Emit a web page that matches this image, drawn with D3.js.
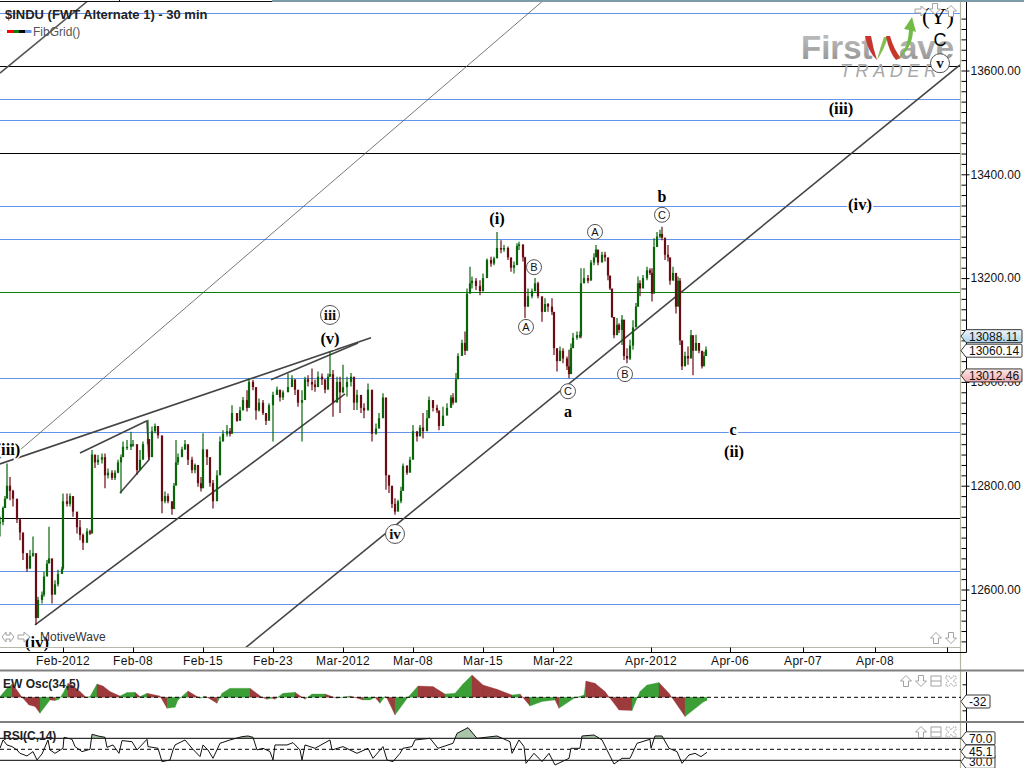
<!DOCTYPE html>
<html><head><meta charset="utf-8">
<script src="https://cdn.jsdelivr.net/npm/d3@7"></script>
<style>
html,body{margin:0;padding:0;background:#fff;overflow:hidden}
svg{display:block}
text{font-family:"Liberation Sans",Arial,sans-serif}
</style></head><body><div id="c"></div>
<script>
// ---- price bars: slot 0 is the Feb-2012 tick, 14 slots per session
const barSlot=[-63,-60,-58,-56,-53,-50,-46,-43,-40,-36,
-33,-30,-27,-25,-21,-19,-16,-14,-11,-8,
-5,-1,0,4,7,10,14,17,20,24,
27,29,32,35,39,42,45,49,52,55,
58,60,64,68,70,74,77,80,85,86,
89,92,95,99,102,105,109,111,113,115,
119,122,125,129,132,135,138,140,144,147,
150,154,157,160,164,167,169,174,177,180,
184,186,190,193,196,200,203,206,210,214,
217,220,225,229,232,235,239,242,245,249,
252,255,259,262,265,267,270,274,277,280,
284,288,291,294,298,301,305,309,313,316,
320,323,326,329,332,335,338,340,344,347,
350,354,357,360,364,366,370,374,376,380,
384,388,390,393,395,399,402,404,407,409,
413,417,420,424,428,431,434,438,441,445,
448,451,454,456,460,462,465,469,472,475,
479,482,485,489,491,494,497,500,504,506,
508,510,514,517,518,521,525,528,531,533,
535,539,542,545,547,549,551,554,556,559,
561,564,567,570,573,575,577,580,584,587,
589,591,594,597,599,602,605,607,610,613,
615,617,619,622,625,628,630,633,636,639,
641,643];
const barLow=[12702,12724,12760,12776,12772,12760,12728,12695,12657,12634,
12651,12663,12532,12554,12573,12586,12631,12657,12573,12593,
12606,12631,12638,12760,12760,12740,12708,12695,12676,12702,
12705,12708,12834,12840,12843,12795,12814,12811,12811,12824,
12785,12869,12869,12869,12875,12821,12843,12856,12882,12849,
12869,12901,12891,12747,12766,12766,12744,12766,12840,12840,
12856,12869,12840,12824,12824,12798,12789,12837,12840,12798,
12756,12779,12830,12891,12895,12895,12904,12923,12936,12946,
12943,12984,12984,12927,12943,12936,12917,12933,12885,12978,
12962,12965,12981,12997,12975,12952,12885,12972,12991,12984,
12981,12997,12994,12978,13007,13010,12933,12984,12940,12978,
12972,12991,12946,12946,12940,12930,12959,12885,12898,12914,
12952,12792,12786,12757,12744,12757,12766,12798,12821,12837,
12866,12885,12901,12891,12907,12943,12943,12940,12907,12930,
12943,12956,12956,12978,13036,13065,13052,13090,13184,13180,
13177,13167,13174,13222,13222,13225,13248,13248,13251,13235,
13212,13209,13245,13254,13232,13123,13145,13161,13174,13161,
13116,13135,13135,13129,13052,13020,13049,13036,13023,13007,
13049,13074,13081,13084,13084,13190,13190,13206,13225,13241,
13225,13232,13232,13196,13177,13123,13084,13097,13094,13071,
13042,13036,13042,13062,13119,13145,13165,13193,13196,13206,
13155,13177,13273,13277,13273,13235,13232,13187,13206,13132,
13148,13071,13023,13036,13033,13062,13013,13065,13055,13026,
13036,13058];
const barHigh=[12740,12760,12780,12843,12817,12792,12766,12737,12695,12670,
12676,12702,12663,12586,12596,12634,12657,12721,12657,12618,
12638,12644,12785,12785,12785,12772,12747,12734,12708,12718,
12715,12869,12859,12859,12862,12862,12833,12830,12830,12850,
12860,12885,12888,12904,12888,12875,12869,12885,12927,12888,
12914,12920,12907,12891,12789,12785,12769,12805,12888,12862,
12875,12888,12875,12856,12843,12833,12817,12901,12862,12817,
12811,12830,12895,12907,12917,12911,12955,12936,12952,12971,
12984,13007,13004,12984,12968,12965,12936,12959,12981,12991,
12984,12984,13016,13013,13004,12981,12984,13010,13013,13026,
13004,13020,13016,12997,13016,13058,13023,13010,13010,13033,
13010,13017,12991,12985,12972,12959,12997,12965,12920,12940,
12978,12962,12821,12786,12776,12773,12798,12843,12840,12856,
12917,12901,12917,12940,12946,12972,12959,12956,12933,12952,
12959,12975,12978,13017,13055,13081,13097,13180,13222,13203,
13200,13196,13209,13238,13241,13241,13289,13273,13264,13261,
13238,13232,13267,13270,13257,13241,13180,13180,13200,13193,
13161,13161,13152,13161,13129,13052,13068,13065,13049,13062,
13074,13094,13097,13097,13219,13219,13206,13235,13248,13264,
13251,13251,13251,13232,13196,13177,13123,13123,13113,13129,
13081,13065,13081,13119,13152,13203,13196,13206,13222,13219,
13219,13277,13289,13293,13299,13267,13264,13222,13222,13187,
13203,13200,13062,13058,13068,13100,13074,13091,13065,13055,
13058,13068];
const barClose=[12730,12757,12775,12800,12790,12775,12735,12710,12670,12640,
12665,12670,12545,12580,12590,12625,12650,12660,12590,12610,
12630,12640,12770,12765,12780,12750,12720,12705,12690,12712,
12708,12860,12845,12850,12855,12820,12825,12815,12825,12845,
12855,12875,12875,12880,12880,12830,12850,12880,12890,12855,
12905,12915,12897,12770,12780,12770,12755,12800,12845,12855,
12870,12880,12850,12830,12840,12805,12795,12870,12855,12805,
12770,12820,12885,12900,12905,12900,12940,12925,12945,12965,
12950,13000,12990,12945,12960,12940,12925,12955,12975,12985,
12970,12980,12990,13005,12985,12960,12965,13005,13000,12995,
12990,13010,13005,12985,13010,13015,12960,13000,12980,12990,
13000,13010,12960,12975,12950,12945,12985,12900,12910,12930,
12970,12820,12800,12765,12750,12770,12790,12838,12825,12850,
12905,12895,12912,12905,12930,12965,12950,12945,12915,12935,
12950,12970,12960,13005,13050,13075,13060,13170,13190,13195,
13185,13175,13200,13235,13228,13238,13258,13255,13258,13240,
13220,13225,13262,13265,13240,13145,13165,13175,13190,13165,
13135,13150,13145,13135,13065,13040,13060,13045,13030,13015,
13065,13085,13090,13088,13190,13200,13195,13230,13240,13255,
13230,13245,13240,13205,13180,13125,13090,13110,13100,13120,
13050,13045,13070,13105,13145,13190,13180,13200,13215,13210,
13170,13260,13280,13285,13278,13245,13240,13195,13210,13145,
13195,13080,13030,13050,13045,13090,13060,13075,13060,13030,
13050,13062];

// ---- EW oscillator
const oscSlot=[-63,-56,-51,-49,-41,-34,-28,-23,-13,-8,-4,0,5,9,17,23,27,34,40,47,57,64,72,77,84,97,104,112,115,125,137,142,154,159,167,187,199,204,209,212,220,232,242,249,262,274,287,300,307,312,317,322,324,332,345,355,370,382,392,400,409,420,434,449,457,467,479,492,496,511,521,523,532,542,556,569,577,584,596,606,622,641,644];
const oscValue=[7,90,130,113,0,-77,-93,-160,-27,-33,-20,40,140,123,57,0,7,133,113,57,13,47,50,7,40,13,-110,-100,-27,63,-10,13,-60,40,90,90,0,-20,-10,-20,40,50,-20,33,33,-10,13,-27,-27,-3,-60,7,-10,-177,0,113,107,33,40,133,223,123,80,23,33,-87,-43,-27,-110,-10,23,163,140,57,-127,-133,57,123,147,40,-193,-43,-32];

// ---- RSI(C,14)
const rsiSlot=[-63,-60,-56,-51,-46,-43,-36,-30,-26,-21,-15,-13,-8,0,1,9,12,19,27,29,35,42,44,50,56,59,69,74,84,85,95,99,107,110,112,122,129,137,140,145,150,157,167,179,185,190,194,200,207,210,212,224,230,237,239,242,252,267,269,280,294,305,310,320,324,330,337,340,349,352,367,375,390,394,405,414,434,447,449,456,461,463,471,479,486,492,506,508,517,519,531,539,544,551,559,567,574,587,588,592,599,606,614,619,626,632,638,644];
const rsiValue=[51.8,67,57.9,54.9,48.8,42.7,37.9,45.8,30.6,41.5,67,48.8,42.7,51.8,71.8,68.2,54.9,45.8,50,77.3,74.2,71.8,53.6,57.9,42.7,65.8,63.9,48.8,68.2,54.9,51.8,27.6,30.6,48.8,57.9,67,51.8,36.7,57.9,48.8,33.6,60.9,67,73,74.2,71.8,48.8,51.8,45.8,30.6,57.9,57.9,62.1,48.8,30.6,57.9,51.8,67,48.8,54.9,42.7,51.8,33.6,54.9,30.6,27.6,42.7,51.8,54.9,67,70,51.8,60.9,79,89.4,70,74.2,63.9,42.7,67,54.9,24.5,42.7,27.6,42.7,21.5,33.6,51.8,51.8,74.2,76,67,48.8,23.3,33.6,33.6,60.9,68.2,51.8,74.2,74.2,51.8,45.8,24.5,39.7,42.7,36.7,44.5];

// ---- levels, trendlines, labels, ticks
const fibPrices=[13711,13609,13545,13505,13441,13339,13275,13173,13007,12903,12738,12636,12572];
const fibKinds=["blue","black","blue","blue","black","blue","blue","green","blue","blue","black","blue","blue"];
const trendStartSlot=[182,-28,-63,208,17,84,86];
const trendStartPrice=[12487,12532,12842,13004,12863,12925,12850];
const trendEndSlot=[897,282,308,295,84,86,57];
const trendEndPrice=[13611,12977,13085,13075,12925,12850,12786];
const thinStartSlot=[-49,-63];
const thinStartPrice=[12859,13595];
const thinEndSlot=[481,26];
const thinEndPrice=[13736,13736];
const labelText=["(iii)","(iv)","iii","(v)","iv","(i)","A","B","C","a","A","B","C","b","c","(ii)","(iii)","(iv)","(Y)","C","v"];
const labelSlot=[-55,-26,267,267,332,434,463,471,505,505,532,562,599,599,670,671,778,797,875,877,877];
const labelPrice=[12871,12499,13129,13085,12707,13316,13106,13221,12982,12944,13289,13015,13322,13358,12909,12867,13528,13343,13705,13659,13614];
const labelKind=["s","s","cr","s","cr","s","ca","ca","ca","s","ca","ca","ca","s","s","s","s","s","y","k","cr"];
const priceTicks=[13600,13400,13200,13000,12800,12600];
const priceMinor=d3.range(12500,13720,20);
const xTickSlot=[0,70,140,210,280,350,420,490,588,667,740,812,884];
const xTickText=["Feb-2012","Feb-08","Feb-15","Feb-23","Mar-2012","Mar-08","Mar-15","Mar-22","Apr-2012","Apr-06","Apr-07","Apr-08",""];
const valueTags=[13088.11,13060.14,13012.46];
const oscTag=-32, rsiTags=[70.0,45.1,30.0];

const W=1024,H=768;
const svg=d3.select("#c").append("svg").attr("width",W).attr("height",H);
const x=d3.scaleLinear().domain([-63,901]).range([0,964]);
const y=d3.scaleLinear().domain([12600,13600]).range([589.5,70.5]);
const yO=d3.scaleLinear().domain([-250,250]).range([722.3,672.3]);
const yR=d3.scaleLinear().domain([30,70]).range([760.3,738.3]);
const PL=961;
const defs=svg.append("defs");
defs.append("clipPath").attr("id","plot").append("rect").attr("x",0).attr("y",2).attr("width",PL).attr("height",645);
defs.append("clipPath").attr("id","over70").append("rect").attr("x",0).attr("y",724).attr("width",PL).attr("height",yR(70)-724);
const gBlue=defs.append("linearGradient").attr("id","tagBlue").attr("x1",0).attr("x2",0).attr("y1",0).attr("y2",1);
gBlue.append("stop").attr("offset",0).attr("stop-color","#eef6fb");gBlue.append("stop").attr("offset",1).attr("stop-color","#a9d3ea");
const gPink=defs.append("linearGradient").attr("id","tagPink").attr("x1",0).attr("x2",0).attr("y1",0).attr("y2",1);
gPink.append("stop").attr("offset",0).attr("stop-color","#fbeaea");gPink.append("stop").attr("offset",1).attr("stop-color","#eeabab");
const gLogo=defs.append("linearGradient").attr("id","logoGrey").attr("x1",0).attr("x2",0).attr("y1",0).attr("y2",1);
gLogo.append("stop").attr("offset",0).attr("stop-color","#c4c4c4");gLogo.append("stop").attr("offset",1).attr("stop-color","#8f8f8f");

// top strip
svg.append("rect").attr("x",272).attr("y",0).attr("width",752).attr("height",2).attr("fill","#7f9aa8");
svg.append("rect").attr("x",0).attr("y",1).attr("width",272).attr("height",1).attr("fill","#111");
svg.append("rect").attr("x",119).attr("y",0).attr("width",1).attr("height",2).attr("fill","#111");

const plot=svg.append("g").attr("clip-path","url(#plot)");

// fib lines
const fibColor={blue:"#6495ed",black:"#000",green:"#0a7d0a"};
plot.selectAll("line.fib").data(fibPrices).join("line").attr("class","fib")
 .attr("x1",0).attr("x2",PL).attr("y1",d=>Math.round(y(d))+.5).attr("y2",d=>Math.round(y(d))+.5)
 .attr("stroke",(d,i)=>fibColor[fibKinds[i]]).attr("stroke-width",1).attr("shape-rendering","crispEdges");

// logo, over the levels like the reference
const logo=svg.append("g");
logo.append("text").attr("x",801).attr("y",59).attr("font-size",33).attr("font-weight","bold").attr("fill","url(#logoGrey)").text("First");
logo.append("text").attr("x",899).attr("y",59).attr("font-size",33).attr("font-weight","bold").attr("fill","url(#logoGrey)").text("ave");
logo.append("path").attr("d","M865,36 Q868,52 877,60 Q873,48 871,36 Z").attr("fill","#c8352c");
logo.append("path").attr("d","M877,60 Q884,50 888,37 L884,37 Q880,48 877,60 Z").attr("fill","#88bf55");
logo.append("path").attr("d","M886,36 Q889,52 896,60 L901,58 Q894,50 890,36 Z").attr("fill","#c8352c");
logo.append("path").attr("d","M896,60 Q908,50 909,30 L904,29 L912,17 L916,32 L913,31 Q912,50 896,60 Z").attr("fill","#72bb45");
logo.append("text").attr("x",840).attr("y",77).attr("font-size",18).attr("font-style","italic").attr("letter-spacing",4.6).attr("fill","#a8a8a8").text("TRADER");

// thin + heavy trendlines
plot.selectAll("line.thin").data(thinStartSlot).join("line").attr("class","thin")
 .attr("x1",(d,i)=>x(d)).attr("y1",(d,i)=>y(thinStartPrice[i])).attr("x2",(d,i)=>x(thinEndSlot[i])).attr("y2",(d,i)=>y(thinEndPrice[i]))
 .attr("stroke","#555").attr("stroke-width",(d,i)=>i==0?.8:1.5);
plot.selectAll("line.trend").data(trendStartSlot).join("line").attr("class","trend")
 .attr("x1",d=>x(d)).attr("y1",(d,i)=>y(trendStartPrice[i])).attr("x2",(d,i)=>x(trendEndSlot[i])).attr("y2",(d,i)=>y(trendEndPrice[i]))
 .attr("stroke","#444").attr("stroke-width",1.6);

// bars: wick high-low, body from previous close to close
const UP="#0a640a",DN="#6b0b14";
const bars=barSlot.map((s,i)=>({s,l:barLow[i],h:barHigh[i],c:barClose[i],o:i?barClose[i-1]:barClose[i]}));
const gb=plot.append("g");
gb.selectAll("line").data(bars).join("line").attr("x1",d=>x(d.s)).attr("x2",d=>x(d.s)).attr("y1",d=>y(d.l)).attr("y2",d=>y(d.h))
 .attr("stroke",d=>d.c>=d.o?UP:DN).attr("stroke-width",1.2);
gb.selectAll("rect").data(bars).join("rect").attr("x",d=>x(d.s)-1.1).attr("width",2.2)
 .attr("y",d=>y(Math.max(d.c,d.o))).attr("height",d=>Math.max(1.5,Math.abs(y(d.c)-y(d.o))))
 .attr("fill",d=>d.c>=d.o?UP:DN);

// wave labels
function label(i){
 const px=x(labelSlot[i]),py=y(labelPrice[i]),k=labelKind[i],t=labelText[i];
 if(k=="s"||k=="y"||k=="k"){
  svg.append("text").attr("x",px).attr("y",py).attr("dy",".35em").attr("text-anchor","middle")
   .attr("font-size",k=="y"?23:(k=="k"?18:(t.length==1?16:16.5)))
   .style("font-family",k=="k"?'"Liberation Sans",sans-serif':'"Liberation Serif",serif')
   .attr("font-weight",k=="k"||k=="y"?"normal":"bold")
   .attr("fill","#000").attr("stroke","#fff").attr("stroke-width",k=="y"||k=="k"?0:3).attr("paint-order","stroke").text(t);
 } else {
  const r=k=="cr"?9.5:7.5;
  svg.append("circle").attr("cx",px).attr("cy",py).attr("r",r).attr("fill","#fff").attr("stroke","#555").attr("stroke-width",1);
  svg.append("text").attr("x",px).attr("y",py).attr("dy",".35em").attr("text-anchor","middle")
   .attr("font-size",k=="cr"?15:11)
   .style("font-family",k=="cr"?'"Liberation Serif",serif':'"Liberation Sans",sans-serif')
   .attr("font-weight",k=="cr"?"bold":"normal").attr("fill","#111").text(t);
 }
}
labelText.forEach((t,i)=>label(i));

// plot frame + axes
svg.append("line").attr("x1",0).attr("x2",PL).attr("y1",647.5).attr("y2",647.5).attr("stroke","#b8b8a8");
svg.append("line").attr("x1",PL-.5).attr("x2",PL-.5).attr("y1",2).attr("y2",768).attr("stroke","#b5b5a2").attr("stroke-width",1.2);
const xAxis=d3.axisTop(x).tickValues(xTickSlot).tickSize(5).tickFormat("").tickSizeOuter(0);
const gx=svg.append("g").attr("transform","translate(0,652.5)").call(xAxis);
gx.selectAll("path,line").attr("stroke","#000");
gx.select(".domain").attr("d","M0,0H966.5");
svg.selectAll("text.xl").data(xTickSlot).join("text").attr("class","xl").attr("x",d=>x(d)).attr("y",665).attr("text-anchor","middle")
 .attr("font-size",12).attr("letter-spacing",.3).attr("fill","#111").text((d,i)=>xTickText[i]);

const gMinor=svg.append("g").attr("transform","translate(966.5,0)").call(d3.axisLeft(y).tickValues(priceMinor).tickSize(5).tickFormat("").tickSizeOuter(0));
gMinor.selectAll("line").attr("stroke","#000");
gMinor.select(".domain").attr("d","M0,2V652.5").attr("stroke","#000");
const gMajor=svg.append("g").attr("transform","translate(966.5,0)").call(d3.axisRight(y).tickValues(priceTicks).tickSize(3).tickPadding(1).tickFormat(d=>d3.format(".2f")(d)).tickSizeOuter(0));
gMajor.select(".domain").remove();gMajor.selectAll("line").attr("stroke","#000");
gMajor.selectAll("text").attr("font-size",12).attr("fill","#111").style("font-family",'"Liberation Sans",sans-serif');

// value tags
function tag(cy,txt,fill,right){
 const L=966,T=PL;
 svg.append("path").attr("d",`M${T},${cy} L${L},${cy-6.5} H${right-1} Q${right},${cy-6.5} ${right},${cy-5.5} V${cy+5.5} Q${right},${cy+6.5} ${right-1},${cy+6.5} H${L} Z`)
  .attr("fill",fill).attr("stroke","#222").attr("stroke-width",.9);
 svg.append("text").attr("x",969).attr("y",cy+4.5).attr("font-size",12).attr("fill","#111").text(txt);
}
tag(y(valueTags[2]),"13012.46","url(#tagPink)",1022);
tag(y(valueTags[0]),"13088.11","url(#tagBlue)",1022);
tag(y(valueTags[1]),"13060.14","#fff",1022);

// panes
[670.5,722].forEach(v=>svg.append("rect").attr("x",0).attr("y",v-1).attr("width",W).attr("height",2).attr("fill","#808080"));

// EW Osc pane
const gO=svg.append("g");
const OG="#3b9e36",OR="#9c3a3c";
const segs=oscSlot.slice(0,-1).map((s,i)=>({a:s,b:oscSlot[i+1],va:oscValue[i],vb:oscValue[i+1]}));
const areaO=d3.area().x(d=>x(d[0])).y0(yO(0)).y1(d=>yO(d[1]));
gO.selectAll("path").data(segs).join("path").attr("d",d=>areaO([[d.a,d.va],[d.b,d.vb]]))
 .attr("fill",d=>d.vb>=d.va?OG:OR).attr("stroke",d=>d.vb>=d.va?OG:OR).attr("stroke-width",.3);
svg.append("line").attr("x1",0).attr("x2",PL).attr("y1",yO(0)).attr("y2",yO(0)).attr("stroke","#000").attr("stroke-dasharray","4 3");
svg.append("text").attr("x",3).attr("y",688).attr("font-size",12).attr("font-weight","bold").attr("fill","#222").text("EW Osc(34,5)");
const gOa=svg.append("g").attr("transform","translate(966.5,0)").call(d3.axisLeft(yO).tickValues([130,-130]).tickSize(4).tickFormat("").tickSizeOuter(0));
gOa.selectAll("line").attr("stroke","#000");
gOa.select(".domain").attr("d","M0,672V721").attr("stroke","#000");
tag(yO(oscTag)+1,"-32","#fff",990);

// RSI pane
const rsiPts=rsiSlot.map((s,i)=>[s,rsiValue[i]]);
svg.append("path").attr("clip-path","url(#over70)")
 .attr("d",d3.area().x(d=>x(d[0])).y0(yR(70)).y1(d=>yR(d[1]))(rsiPts)).attr("fill","#a9c6ab");
[70,30].forEach(v=>svg.append("line").attr("x1",0).attr("x2",PL).attr("y1",yR(v)).attr("y2",yR(v)).attr("stroke","#000"));
svg.append("line").attr("x1",0).attr("x2",PL).attr("y1",yR(50)).attr("y2",yR(50)).attr("stroke","#000").attr("stroke-dasharray","4 3");
svg.append("path").attr("d",d3.line().x(d=>x(d[0])).y(d=>yR(d[1]))(rsiPts)).attr("fill","none").attr("stroke","#111").attr("stroke-width",1);
svg.append("text").attr("x",3).attr("y",739.5).attr("font-size",12).attr("font-weight","bold").attr("fill","#222").text("RSI(C,14)");
svg.append("line").attr("x1",966.5).attr("x2",966.5).attr("y1",723).attr("y2",768).attr("stroke","#000");
tag(yR(rsiTags[2])+1.5,"30.0","#fff",995);
tag(yR(rsiTags[0]),"70.0","#fff",995);
tag(yR(rsiTags[1])-.5,"45.1","#fff",995);

// small window icons (drawn)
const ic=svg.append("g").attr("fill","#fff").attr("stroke","#999").attr("stroke-width",.9);
function up(cx,cy){ic.append("path").attr("d",`M${cx},${cy-5.5} L${cx+5.5},${cy} H${cx+2.5} V${cy+5.5} H${cx-2.5} V${cy} H${cx-5.5} Z`);}
function dn(cx,cy){ic.append("path").attr("d",`M${cx},${cy+5.5} L${cx+5.5},${cy} H${cx+2.5} V${cy-5.5} H${cx-2.5} V${cy} H${cx-5.5} Z`);}
function lr(cx,cy){ic.append("path").attr("d",`M${cx-6},${cy} L${cx-2},${cy-5} V${cy-2} H${cx+2} V${cy-5} L${cx+6},${cy} L${cx+2},${cy+5} V${cy+2} H${cx-2} V${cy+5} Z`);}
function rt(cx,cy){ic.append("path").attr("d",`M${cx+6},${cy} L${cx},${cy-5} V${cy-2} H${cx-6} V${cy+2} H${cx} V${cy+5} Z`);}
function wn(cx,cy){ic.append("rect").attr("x",cx-5).attr("y",cy-5).attr("width",10).attr("height",10);ic.append("line").attr("x1",cx-5).attr("x2",cx+5).attr("y1",cy).attr("y2",cy);}
function xx(cx,cy){ic.append("path").attr("d",`M${cx-5},${cy-5} L${cx-2},${cy-5} L${cx},${cy-2} L${cx+2},${cy-5} L${cx+5},${cy-5} L${cx+5},${cy-2} L${cx+2},${cy} L${cx+5},${cy+2} L${cx+5},${cy+5} L${cx+2},${cy+5} L${cx},${cy+2} L${cx-2},${cy+5} L${cx-5},${cy+5} L${cx-5},${cy+2} L${cx-2},${cy} L${cx-5},${cy-2} Z`).attr("stroke-dasharray","1.5 1");}
rt(921,11);dn(935,9);up(951,11);
lr(8,637);rt(24,637);
up(936,638);dn(951,638);
up(906,681);dn(921,681);wn(936,681);xx(951,681);
up(921,732);wn(936,732);xx(951,732);

// title / legend
svg.append("text").attr("x",5).attr("y",19).attr("font-size",13).attr("font-weight","bold").attr("fill","#222").text("$INDU (FWT Alternate 1) - 30 min");
[["#f00",7],["#0a7d0a",13],["#000",19],["#6495ed",25]].forEach(d=>svg.append("rect").attr("x",d[1]).attr("y",30).attr("width",6.5).attr("height",3).attr("fill",d[0]));
svg.append("text").attr("x",33).attr("y",36).attr("font-size",12).attr("fill","#555").text("FibGrid()");
svg.append("text").attr("x",40).attr("y",641).attr("font-size",12).attr("fill","#333").text("MotiveWave");
</script></body></html>
